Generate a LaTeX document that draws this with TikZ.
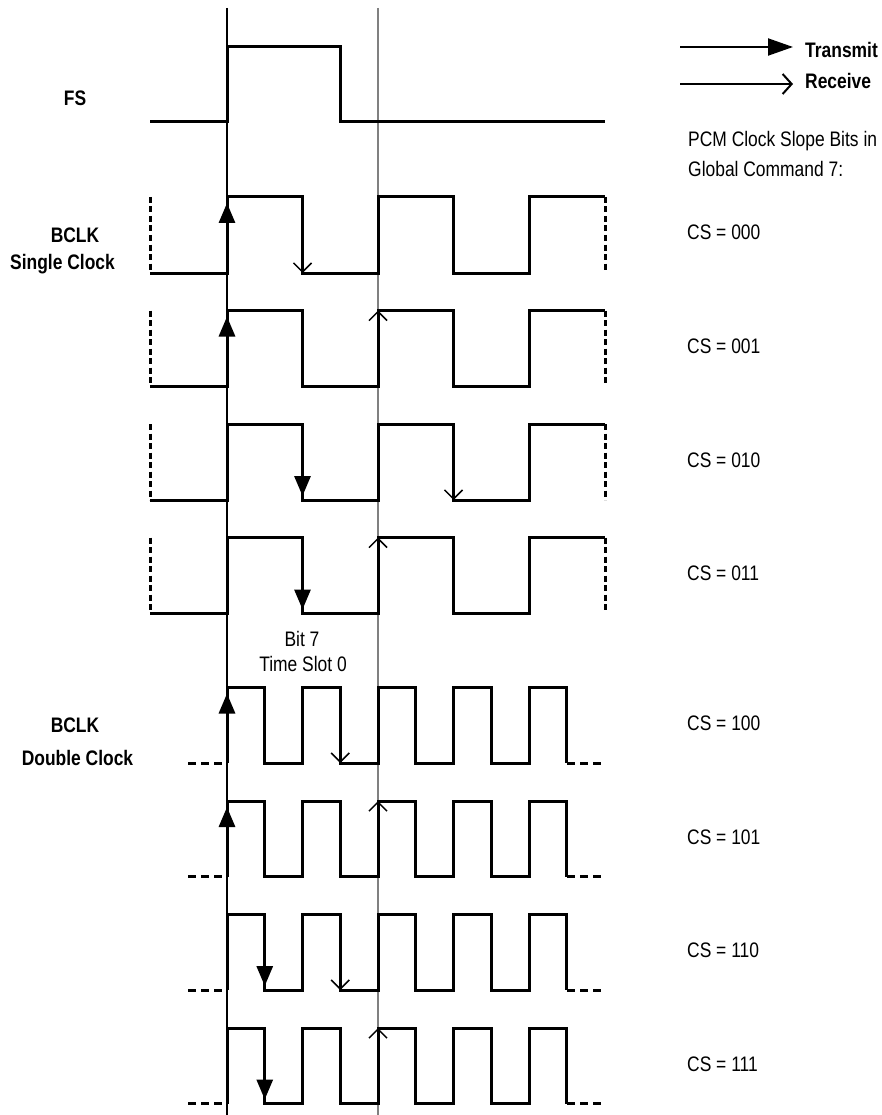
\documentclass[tikz,border=0pt]{standalone}
\usepackage{fontspec}
\setmainfont{Liberation Sans}[FakeStretch=0.83]
\usetikzlibrary{arrows.meta}
\definecolor{GuideGray}{RGB}{128,128,128}
\tikzset{
  wave/.style={line width=3pt,draw=black,line join=miter},
  dashvert/.style={line width=3pt,draw=black,dash pattern=on 6pt off 3.5pt},
  dashlead/.style={line width=3pt,draw=black,dash pattern=on 8pt off 5pt},
  guide/.style={line width=1.1pt,draw=black},
  grayguide/.style={line width=1.3pt,draw=GuideGray},
  txedge/.style={-{Triangle[length=20pt,width=16pt]},line width=3pt,draw=black},
  rxedge/.style={-{Straight Barb[length=9pt,width=18pt]},line width=1.5pt,draw=black},
  txkey/.style={-{Triangle[length=25pt,width=17pt]},line width=2pt,draw=black},
  rxkey/.style={-{Straight Barb[length=9pt,width=20pt]},line width=2pt,draw=black},
  lbl/.style={inner sep=0pt,font=\fontsize{21}{26}\selectfont},
  boldlbl/.style={inner sep=0pt,font=\fontsize{21}{26}\selectfont\bfseries}
}

\begin{document}
\begin{tikzpicture}[x=1pt,y=-1pt]
  \useasboundingbox (0,0) rectangle (881,1115);
  % guide lines
  \draw[guide] (227,8) -- (227,1115);
  \draw[grayguide] (378,8) -- (378,1115);

  % legend
  \coordinate (txfrom) at (680,47);
  \coordinate (txto) at (793,47);
  \coordinate (rxfrom) at (680,84);
  \coordinate (rxto) at (793,84);
  \draw[txkey] (txfrom) -- (txto);
  \draw[rxkey] (rxfrom) -- (rxto);
  \node[boldlbl,anchor=base west] (txname) at (805,57.5) {Transmit};
  \node[boldlbl,anchor=base west] (rxname) at (805,88.5) {Receive};
  \node[lbl,anchor=base west] (pcm1) at (688,146.5) {PCM Clock Slope Bits in};
  \node[lbl,anchor=base west] (pcm2) at (688,176.5) {Global Command 7:};

  % left labels
  \node[boldlbl,anchor=base] (fs) at (75,105.5) {FS};
  \node[boldlbl,anchor=base] (bclk1) at (75,243) {BCLK};
  \node[boldlbl,anchor=base] (single) at (62.5,269) {Single Clock};
  \node[boldlbl,anchor=base] (bclk2) at (75,732) {BCLK};
  \node[boldlbl,anchor=base] (double) at (77.5,765) {Double Clock};
  \node[lbl,anchor=base] (bit7) at (302,646.5) {Bit 7};
  \node[lbl,anchor=base] (slot0) at (303,671.5) {Time Slot 0};

  % FS
  \draw[wave] (150,122) -| (227,46.5) -| (340,122) -- (605,122);

  % single clock, CS = 000
  \draw[dashvert] (150,197) -- (150,273);
  \draw[dashvert] (605,197) -- (605,273);
  \draw[wave] (150,273) -| (227,197) -| (302.5,273) -| (378,197) -| (453.5,273) -| (529,197) -- (605,197);
  \draw[txedge] (227,273) -- (227,203);
  \draw[rxedge] (302.5,240) -- (302.5,273);
  \node[lbl,anchor=base west] (cs0) at (687,240) {CS = 000};

  % single clock, CS = 001
  \draw[dashvert] (150,310.5) -- (150,386.5);
  \draw[dashvert] (605,310.5) -- (605,386.5);
  \draw[wave] (150,386.5) -| (227,310.5) -| (302.5,386.5) -| (378,310.5) -| (453.5,386.5) -| (529,310.5) -- (605,310.5);
  \draw[txedge] (227,386.5) -- (227,316.5);
  \draw[rxedge] (378,350) -- (378,310.5);
  \node[lbl,anchor=base west] (cs1) at (687,353.5) {CS = 001};

  % single clock, CS = 010
  \draw[dashvert] (150,424) -- (150,500);
  \draw[dashvert] (605,424) -- (605,500);
  \draw[wave] (150,500) -| (227,424) -| (302.5,500) -| (378,424) -| (453.5,500) -| (529,424) -- (605,424);
  \draw[txedge] (302.5,424) -- (302.5,496);
  \draw[rxedge] (453.5,465) -- (453.5,500);
  \node[lbl,anchor=base west] (cs2) at (687,467) {CS = 010};

  % single clock, CS = 011
  \draw[dashvert] (150,537.5) -- (150,613.5);
  \draw[dashvert] (605,537.5) -- (605,613.5);
  \draw[wave] (150,613.5) -| (227,537.5) -| (302.5,613.5) -| (378,537.5) -| (453.5,613.5) -| (529,537.5) -- (605,537.5);
  \draw[txedge] (302.5,537.5) -- (302.5,609.5);
  \draw[rxedge] (378,575) -- (378,537.5);
  \node[lbl,anchor=base west] (cs3) at (687,580.5) {CS = 011};

  % double clock, CS = 100
  \draw[dashlead] (188,763) -- (227,763);
  \draw[dashlead] (567,763) -- (601,763);
  \draw[wave] (227,763) -- (227,687.5) -| (264.75,763) -| (302.5,687.5) -| (340.25,763) -| (378,687.5) -| (415.75,763) -| (453.5,687.5) -| (491.25,763) -| (529,687.5) -| (566.75,763);
  \draw[txedge] (227,763) -- (227,693.5);
  \draw[rxedge] (340.25,725) -- (340.25,763);
  \node[lbl,anchor=base west] (cs4) at (687,730.5) {CS = 100};

  % double clock, CS = 101
  \draw[dashlead] (188,876.5) -- (227,876.5);
  \draw[dashlead] (567,876.5) -- (601,876.5);
  \draw[wave] (227,876.5) -- (227,801) -| (264.75,876.5) -| (302.5,801) -| (340.25,876.5) -| (378,801) -| (415.75,876.5) -| (453.5,801) -| (491.25,876.5) -| (529,801) -| (566.75,876.5);
  \draw[txedge] (227,876.5) -- (227,807);
  \draw[rxedge] (378,840) -- (378,801);
  \node[lbl,anchor=base west] (cs5) at (687,844) {CS = 101};

  % double clock, CS = 110
  \draw[dashlead] (188,990) -- (227,990);
  \draw[dashlead] (567,990) -- (601,990);
  \draw[wave] (227,990) -- (227,914.5) -| (264.75,990) -| (302.5,914.5) -| (340.25,990) -| (378,914.5) -| (415.75,990) -| (453.5,914.5) -| (491.25,990) -| (529,914.5) -| (566.75,990);
  \draw[txedge] (264.75,914.5) -- (264.75,986);
  \draw[rxedge] (340.25,955) -- (340.25,990);
  \node[lbl,anchor=base west] (cs6) at (687,957.5) {CS = 110};

  % double clock, CS = 111
  \draw[dashlead] (188,1103.5) -- (227,1103.5);
  \draw[dashlead] (567,1103.5) -- (601,1103.5);
  \draw[wave] (227,1103.5) -- (227,1028) -| (264.75,1103.5) -| (302.5,1028) -| (340.25,1103.5) -| (378,1028) -| (415.75,1103.5) -| (453.5,1028) -| (491.25,1103.5) -| (529,1028) -| (566.75,1103.5);
  \draw[txedge] (264.75,1028) -- (264.75,1099.5);
  \draw[rxedge] (378,1065) -- (378,1028);
  \node[lbl,anchor=base west] (cs7) at (687,1071) {CS = 111};
\end{tikzpicture}
\end{document}
